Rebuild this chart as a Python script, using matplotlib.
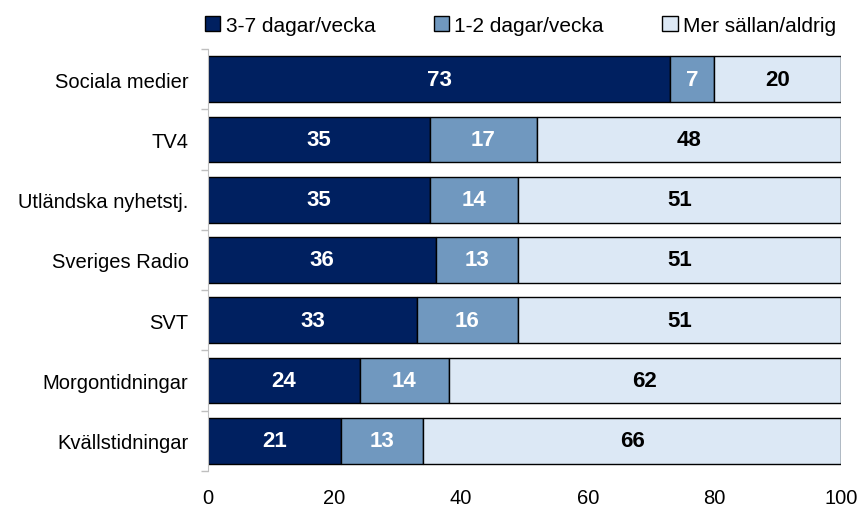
import numpy as np
import matplotlib.pyplot as plt

# data
categories = ['Sociala medier', 'TV4', 'Utländska nyhetstj.', 'Sveriges Radio',
              'SVT', 'Morgontidningar', 'Kvällstidningar']
often = [73, 35, 35, 36, 33, 24, 21]
sometimes = [7, 17, 14, 13, 16, 14, 13]
rarely = [20, 48, 51, 51, 51, 62, 66]
series_names = ['3-7 dagar/vecka', '1-2 dagar/vecka', 'Mer sällan/aldrig']

colors = ['#002060', '#7098BF', '#DCE8F5']
text_colors = ['white', 'white', 'black']

plt.rcParams['font.family'] = ['Liberation Sans', 'DejaVu Sans']

fig = plt.figure(figsize=(8.59, 5.10), dpi=100)
ax = fig.add_axes([0.2421, 0.0745, 0.9790 - 0.2421, 0.902 - 0.0745])

y = np.arange(len(categories))
left = np.zeros(len(categories))
for vals, col, tc, name in zip([often, sometimes, rarely], colors, text_colors, series_names):
    bars = ax.barh(y, vals, left=left, height=0.76, color=col,
                   edgecolor='black', linewidth=1.0, label=name)
    for b, v in zip(bars, vals):
        ax.text(b.get_x() + b.get_width() / 2, b.get_y() + b.get_height() / 2,
                str(v), ha='center', va='center', color=tc,
                fontsize=16, fontweight='bold')
    left += np.array(vals)

ax.set_xlim(0, 100)
ax.set_ylim(len(categories) - 0.5, -0.5)
ax.set_yticks(y)
ax.set_yticklabels(categories, fontsize=14.5)
ax.set_yticks(np.arange(-0.5, len(categories)), minor=True)
ax.tick_params(axis='y', which='major', length=0, pad=14)
ax.tick_params(axis='y', which='minor', length=5, color='#BFBFBF', width=1)
ax.set_xticks([0, 20, 40, 60, 80, 100])
ax.tick_params(axis='x', length=0, labelsize=14.5, pad=12)

for s in ['top', 'right', 'bottom']:
    ax.spines[s].set_visible(False)
ax.spines['left'].set_color('#BFBFBF')

fig.legend(loc='center', bbox_to_anchor=(0.606, 0.948), ncol=3,
           frameon=False, fontsize=15, handlelength=0.75, handleheight=0.75,
           handletextpad=0.25, columnspacing=2.8)

fig.savefig('out.png', dpi=100)
